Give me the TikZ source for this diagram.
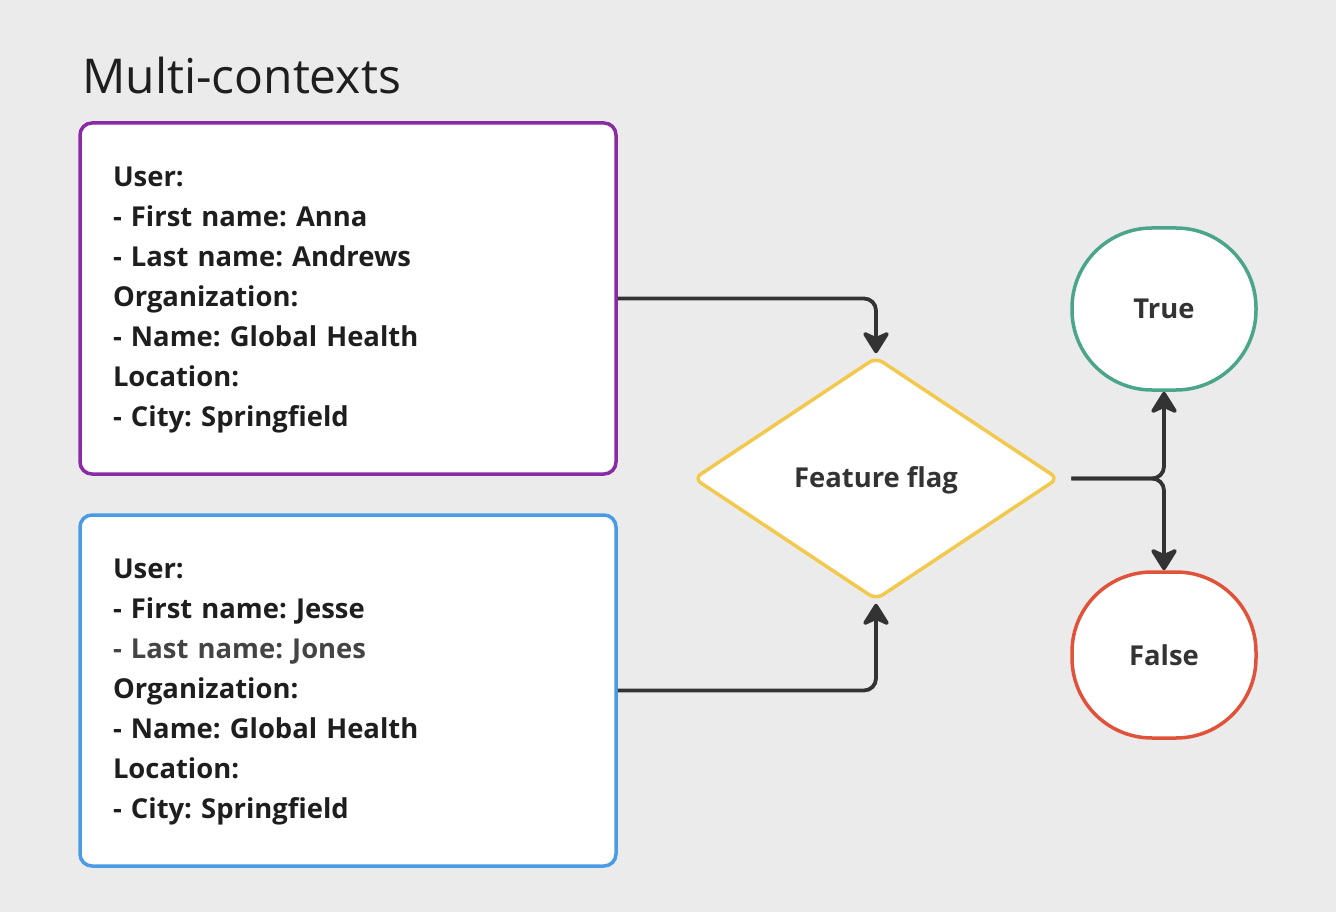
\documentclass[tikz,border=0pt]{standalone}
\usepackage{fontspec}
\setmainfont{Open Sans}
\frenchspacing
\usetikzlibrary{arrows.meta,shapes.geometric}
\definecolor{bg}{HTML}{EBEBEB}
\definecolor{ink}{HTML}{1E1E1E}
\definecolor{inkb}{HTML}{333333}
\definecolor{inkl}{HTML}{444444}
\definecolor{cpurple}{HTML}{8A2BA6}
\definecolor{cblue}{HTML}{4A9BE6}
\definecolor{cyellow}{HTML}{F2C94C}
\definecolor{cgreen}{HTML}{4AA58A}
\definecolor{cred}{HTML}{E0533A}
\definecolor{conn}{HTML}{333333}
\tikzset{
  ctx/.style={rectangle, rounded corners=12pt, fill=white, line width=3.5pt,
    minimum width=536pt, minimum height=351pt, text width=470pt, inner xsep=33pt,
    align=left, text=ink, font=\bfseries\fontsize{27.4}{40}\selectfont},
  outcome/.style={rectangle, rounded corners=80pt, fill=white, line width=3.5pt,
    minimum width=184pt, text=inkb, font=\bfseries\fontsize{27.4}{32}\selectfont},
  flow/.style={draw=conn, line width=3.8pt, rounded corners=12pt,
    -{Stealth[length=25pt,width=31pt,inset=7pt,round]}}
}
\newcommand{\topstrut}{\rule{0pt}{23pt}}
\begin{document}
\begin{tikzpicture}[x=1pt,y=-1pt]
\fill[bg] (0,0) rectangle (1336,912);
\useasboundingbox (0,0) rectangle (1336,912);

\node[anchor=base west, inner sep=0, text=ink, font=\fontsize{48}{52}\selectfont] (title) at (82,94) {Multi-contexts};

\node[ctx, draw=cpurple] (u1) at (348,298.5) {\topstrut User:\\
- First name: Anna\\
- Last name: Andrews\\
Organization:\\
- Name: Global Health\\
Location:\\
- City: Springfield};

\node[ctx, draw=cblue] (u2) at (348,690.5) {\topstrut User:\\
- First name: Jesse\\
\textcolor{inkl}{- Last name: Jones}\\
Organization:\\
- Name: Global Health\\
Location:\\
- City: Springfield};

\node[diamond, aspect=1.5, draw=cyellow, fill=white, line width=3.5pt, inner sep=0pt,
  minimum width=365pt, minimum height=243pt, rounded corners=8pt,
  text=inkb, font=\bfseries\fontsize{27.4}{32}\selectfont] (flag) at (876,478.5) {\raisebox{-2pt}[\height][\depth]{Feature flag}};

\node[outcome, draw=cgreen, minimum height=162pt] (t) at (1164,309) {True};
\node[outcome, draw=cred, minimum height=166pt] (f) at (1164,655) {False};

\draw[flow] (u1.east) -| ([yshift=2pt]flag.north);
\draw[flow] (u2.east) -| ([yshift=-2pt]flag.south);
\draw[flow, shorten <=11pt] (flag.east) -| (t.south);
\draw[flow, shorten <=11pt] (flag.east) -| (f.north);
\end{tikzpicture}
\end{document}
